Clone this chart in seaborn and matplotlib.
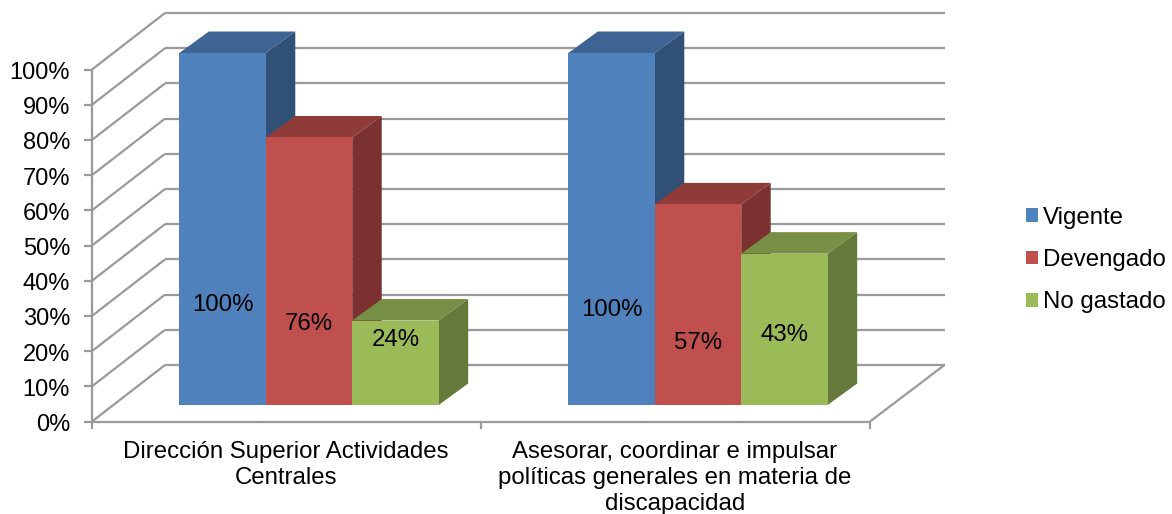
import matplotlib
matplotlib.use('Agg')
import matplotlib.pyplot as plt
from matplotlib.patches import Polygon
from matplotlib.transforms import ScaledTranslation
import pandas as pd
import seaborn as sns

categories = ['Dirección Superior Actividades\nCentrales',
              'Asesorar, coordinar e impulsar\npolíticas generales en materia de\ndiscapacidad']
series = ['Vigente', 'Devengado', 'No gastado']
vigente = [100, 100]
devengado = [76, 57]
no_gastado = [24, 43]
y_ticks = list(range(0, 101, 10))
y_tick_labels = [f'{v}%' for v in y_ticks]

front_colors = ['#4F81BD', '#C0504D', '#9BBB59']
top_colors = ['#3E6494', '#8E3B39', '#779045']
side_colors = ['#315075', '#7A3130', '#65793A']
axis_color = '#9A9A9A'

df = pd.DataFrame({
    'category': categories * 3,
    'series': [s for s in series for _ in categories],
    'value': vigente + devengado + no_gastado,
})

sns.set_theme(style='white')
plt.rcParams['font.family'] = ['Liberation Sans', 'DejaVu Sans']
font_size = 17.3

fig = plt.figure(figsize=(11.72, 5.14), dpi=100)
# axes sit on the plane of the bars' front faces
ax = fig.add_axes([114.5 / 1172, 109 / 514, 778 / 1172, 352 / 514])

sns.barplot(data=df, x='category', y='value', hue='series', hue_order=series,
            palette=front_colors, saturation=1, width=2 / 3, gap=0, linewidth=0, ax=ax)
ax.set_xlim(-0.5, 1.5)
ax.set_ylim(0, 100)
ax.set_xlabel('')
ax.set_ylabel('')
sns.despine(ax=ax, left=True, bottom=True)

# pixel offsets of the fake 3D planes, turned into data units
px_x = 1 / 389
px_y = 100 / 352
front_x, front_y = -22.5 * px_x, -16.5 * px_y
back_x, back_y = 52 * px_x, 40 * px_y
depth_x, depth_y = 29.5 * px_x, 21.5 * px_y
line = dict(color=axis_color, lw=1.6, clip_on=False, zorder=1, solid_capstyle='butt')

x0, x1 = -0.5, 1.5
for v in y_ticks:
    # left wall, back wall, tick
    ax.plot([x0 + front_x, x0 + back_x - 1.5 * px_x], [v + front_y, v + back_y], **line)
    ax.plot([x0 + back_x - 1.5 * px_x, x1 + back_x], [v + back_y, v + back_y], **line)
    ax.plot([x0 + front_x - 8 * px_x, x0 + front_x], [v + front_y, v + front_y], **line)
ax.plot([x0 + front_x, x0 + front_x], [front_y, 100 + front_y], **line)
ax.plot([x0 + front_x, x1 + front_x], [front_y, front_y], **line)
ax.plot([x1 + front_x, x1 + back_x], [front_y, back_y], **line)
for x in [x0, 0.5, x1]:
    ax.plot([x + front_x, x + front_x], [front_y, front_y - 7 * px_y], **line)

# side and top faces built from the seaborn bars
for h, bars in enumerate(ax.containers):
    for bar in bars:
        xl = bar.get_x()
        xr = xl + bar.get_width()
        top = bar.get_height()
        bar.set_zorder(4 + 2 * h)
        ax.add_patch(Polygon([(xr, 0), (xr + depth_x, depth_y), (xr + depth_x, top + depth_y), (xr, top)],
                             facecolor=side_colors[h], edgecolor='none', clip_on=False, zorder=3 + 2 * h))
        ax.add_patch(Polygon([(xl, top), (xl + depth_x, top + depth_y), (xr + depth_x, top + depth_y), (xr, top)],
                             facecolor=top_colors[h], edgecolor='none', clip_on=False, zorder=3 + 2 * h))

# data labels sit at Excel's own heights, not at bar centres
label_heights = [[28.4, 26.9], [23, 17.6], [18.4, 19.8]]
for h, bars in enumerate(ax.containers):
    for i, bar in enumerate(bars):
        ax.text(bar.get_x() + bar.get_width() / 2, label_heights[h][i], f'{bar.get_height():.0f}%',
                ha='center', va='center', fontsize=font_size, color='black', zorder=20)

ax.set_yticks(y_ticks)
ax.set_yticklabels(y_tick_labels)
ax.set_xticks([0, 1])
ax.set_xticklabels(categories, linespacing=1.24)
ax.tick_params(axis='y', length=0, pad=32, labelsize=17, labelcolor='black')
ax.tick_params(axis='x', length=0, pad=26, labelsize=font_size, labelcolor='black')
y_shift = ScaledTranslation(0, -17.5 / 100, fig.dpi_scale_trans)
x_shift = ScaledTranslation(-23 / 100, 0, fig.dpi_scale_trans)
for label in ax.get_yticklabels():
    label.set_transform(label.get_transform() + y_shift)
for label in ax.get_xticklabels():
    label.set_transform(label.get_transform() + x_shift)

sns.move_legend(ax, loc='center left', bbox_to_anchor=(1026 / 1172, (514 - 260) / 514),
                bbox_transform=fig.transFigure, title=None, frameon=False, fontsize=font_size,
                labelcolor='black', handlelength=0.5, handleheight=0.5, handletextpad=0.22,
                labelspacing=0.85, borderpad=0, borderaxespad=0)

plt.savefig('out.png', dpi=100)
